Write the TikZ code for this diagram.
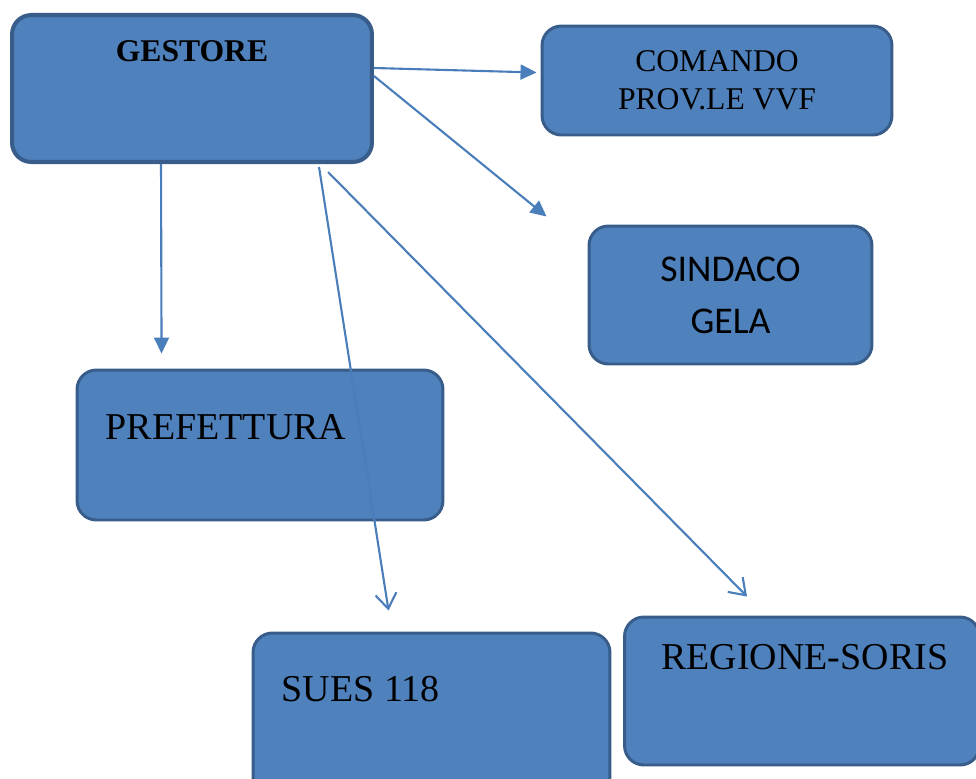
\documentclass[tikz,border=0pt]{standalone}
\usepackage{fontspec}
\setmainfont{Liberation Serif}
\newfontfamily\calibrifont{Carlito}
\usepackage{tikz}
\usetikzlibrary{arrows.meta, positioning, calc}
\definecolor{boxfill}{HTML}{4F81BD}
\definecolor{boxedge}{HTML}{385D8A}
\definecolor{arrowcol}{HTML}{4A7EBB}

\begin{document}
\begin{tikzpicture}[x=0.02cm, y=-0.02cm,
  box/.style={draw=boxedge, line width=1.7pt, fill=boxfill, rounded corners=11pt, inner sep=0pt, align=center},
  lbl/.style={font=\fontsize{21.6}{25}\selectfont, inner sep=0pt},
  filledarr/.style={draw=arrowcol, line width=1.2pt, -{Triangle[length=0.32cm, width=0.3cm]}},
  openarr/.style={draw=arrowcol, line width=1.2pt, -{Straight Barb[length=0.3cm, width=0.42cm]}},
]
\clip (0,0) rectangle (976,778);

% Boxes
\node[box, line width=2.3pt, minimum width=7.2cm, minimum height=2.94cm] (gestore) at (192,88.5) {};
\node[box, minimum width=7cm, minimum height=2.18cm, font=\fontsize{18}{21.6}\selectfont] (comando) at (717,80.5) {COMANDO\\PROV.LE VVF};
\node[box, minimum width=5.66cm, minimum height=2.76cm, font=\calibrifont\fontsize{21.5}{29.5}\selectfont] (sindaco) at (730.5,295) {SINDACO\\GELA};
\node[box, minimum width=7.32cm, minimum height=3cm] (prefettura) at (260,445) {};
\node[box, minimum width=7.14cm, minimum height=3.4cm] (sues) at (431.5,718) {};
\node[box, minimum width=7.1cm, minimum height=2.96cm] (regione) at (802,691) {};

% Labels
\node[font=\bfseries\fontsize{18}{21.6}\selectfont, inner sep=0pt, anchor=base] (gestoretxt) at ($(gestore.north)+(0,49)$) {GESTORE};
\node[lbl, anchor=base west] (prefetturatxt) at ($(prefettura.north west)+(30,71)$) {PREFETTURA};
\node[lbl, anchor=base west] (suestxt) at ($(sues.north west)+(30,70)$) {SUES 118};
\node[lbl, anchor=base west] (regionetxt) at ($(regione.north west)+(38,54)$) {REGIONE-SORIS};

% Arrows
\draw[filledarr] ($(gestore.north east)+(0,55)$) -- ($(comando.west)+(-4,-8)$);
\draw[filledarr] ($(gestore.north east)+(0,63)$) -- ($(sindaco.north west)+(-41,-8)$);
\draw[filledarr] ($(gestore.south west)+(151,0)$) -- ($(prefettura.north west)+(86,-15)$);
\draw[openarr] ($(gestore.south west)+(309,3)$) -- ($(sues.north west)+(137,-21)$);
\draw[openarr] ($(gestore.south west)+(318,8)$) -- ($(regione.north west)+(124,-19)$);

\end{tikzpicture}
\end{document}
